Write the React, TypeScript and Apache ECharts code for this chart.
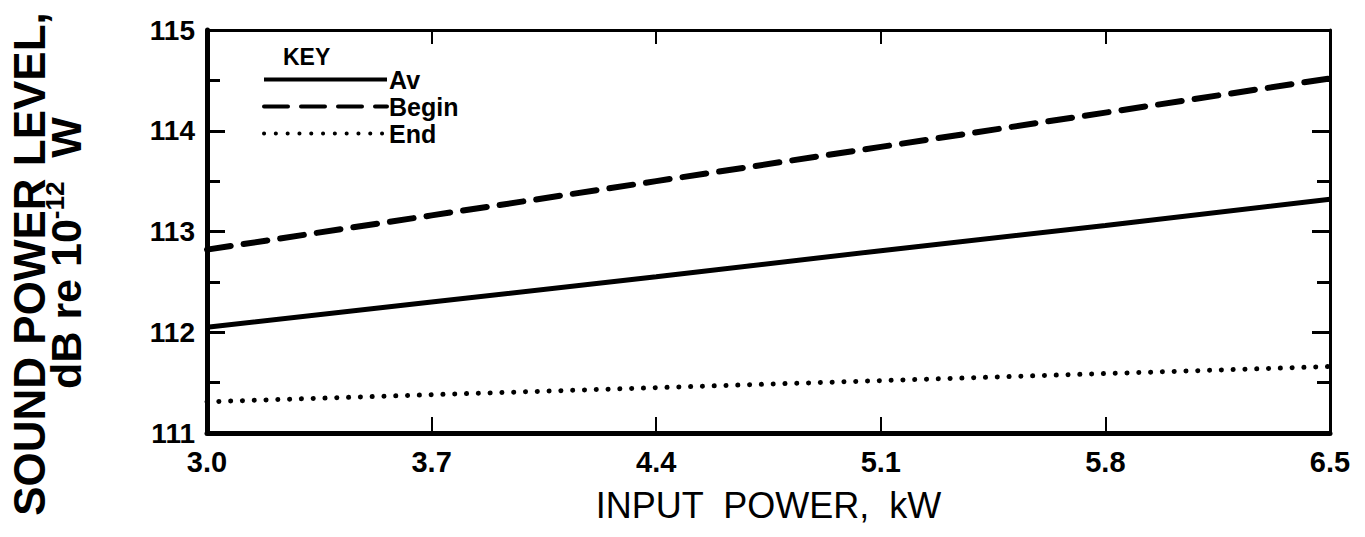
import React, { useEffect, useRef } from "react";
import * as echarts from "echarts";

const xLabels = ["3.0", "3.7", "4.4", "5.1", "5.8", "6.5"];
const avValues = [112.05, 112.3, 112.55, 112.81, 113.06, 113.32];
const beginValues = [112.82, 113.16, 113.5, 113.84, 114.18, 114.52];
const endValues = [111.31, 111.38, 111.45, 111.52, 111.59, 111.66];
const yMin = 111;
const yMax = 115;
const yInterval = 1;

const FONT = "'Liberation Sans', Arial, Helvetica, sans-serif";

export default function App() {
  const ref = useRef<HTMLDivElement>(null);

  useEffect(() => {
    if (!ref.current) return;
    const chart = echarts.init(ref.current, undefined, { renderer: "svg" });

    const baseY = {
      type: "value" as const,
      min: yMin,
      max: yMax,
      interval: yInterval,
      splitLine: { show: false },
      minorTick: { show: true, splitNumber: 2, length: 13, lineStyle: { color: "#000", width: 3 } },
      minorSplitLine: { show: false },
    };

    chart.setOption({
      animation: false,
      backgroundColor: "#fff",
      textStyle: { fontFamily: FONT, color: "#000" },
      grid: { left: 207, right: 35, top: 30, bottom: 104, containLabel: false },
      xAxis: [
        {
          type: "category",
          data: xLabels,
          boundaryGap: false,
          position: "bottom",
          axisLine: { show: true, lineStyle: { color: "#000", width: 5 } },
          axisTick: { show: true, inside: true, length: 16, lineStyle: { color: "#000", width: 2 } },
          axisLabel: { show: true, fontSize: 29, fontWeight: "bold", color: "#000", fontFamily: FONT, margin: 14 },
          splitLine: { show: false },
          name: "INPUT  POWER,  kW",
          nameLocation: "middle",
          nameGap: 54,
          nameTextStyle: { fontSize: 36, color: "#000", fontFamily: FONT },
        },
        {
          type: "category",
          data: xLabels,
          boundaryGap: false,
          position: "top",
          axisLine: { show: true, lineStyle: { color: "#000", width: 3 } },
          axisTick: { show: true, inside: true, length: 14, lineStyle: { color: "#000", width: 2 } },
          axisLabel: { show: false },
          splitLine: { show: false },
        },
      ],
      yAxis: [
        {
          ...baseY,
          position: "left",
          axisLine: { show: true, lineStyle: { color: "#000", width: 5 } },
          axisTick: { show: true, inside: true, length: 18, lineStyle: { color: "#000", width: 3 } },
          axisLabel: { show: true, fontSize: 28, fontWeight: "bold", color: "#000", fontFamily: FONT, margin: 12 },
        },
        {
          ...baseY,
          position: "right",
          axisLine: { show: true, lineStyle: { color: "#000", width: 3 } },
          axisTick: { show: true, inside: true, length: 18, lineStyle: { color: "#000", width: 3 } },
          axisLabel: { show: false },
        },
      ],
      legend: {
        show: true,
        orient: "vertical",
        left: 262,
        top: 67,
        itemWidth: 123,
        itemHeight: 14,
        itemGap: 2,
        padding: 0,
        data: ["Av", "Begin", "End"],
        itemStyle: { color: "transparent", opacity: 0, borderWidth: 0 },
        lineStyle: { width: 4 },
        textStyle: {
          fontSize: 25,
          lineHeight: 25,
          fontWeight: "bold",
          color: "#000",
          fontFamily: FONT,
          padding: [0, 0, 0, -3],
        },
      },
      graphic: [
        {
          type: "text",
          left: 283,
          top: 45,
          style: { text: "KEY", fontSize: 23, fontWeight: "bold", fontFamily: FONT, fill: "#000" },
        },
        {
          type: "text",
          x: 29,
          y: 264,
          rotation: Math.PI / 2,
          style: {
            text: "SOUND POWER LEVEL,",
            fontSize: 44,
            fontWeight: "bold",
            fontFamily: FONT,
            fill: "#000",
            align: "center",
            verticalAlign: "middle",
          },
        },
        {
          type: "text",
          x: 66,
          y: 253,
          rotation: Math.PI / 2,
          style: {
            text: "dB re 10{sup|-12}  W",
            fontSize: 43,
            fontWeight: "bold",
            fontFamily: FONT,
            fill: "#000",
            align: "center",
            verticalAlign: "middle",
            rich: {
              sup: {
                fontSize: 26,
                fontWeight: "bold",
                fontFamily: FONT,
                fill: "#000",
                verticalAlign: "bottom",
                padding: [0, 0, 22, 0],
              },
            },
          },
        },
      ],
      series: [
        {
          name: "Av",
          type: "line",
          data: avValues,
          symbol: "none",
          lineStyle: { color: "#000", width: 5, type: "solid" },
          itemStyle: { color: "#000" },
        },
        {
          name: "Begin",
          type: "line",
          data: beginValues,
          symbol: "none",
          lineStyle: { color: "#000", width: 6, type: [24, 13], cap: "round" },
          itemStyle: { color: "#000" },
        },
        {
          name: "End",
          type: "line",
          data: endValues,
          symbol: "none",
          lineStyle: { color: "#000", width: 5, type: [0.1, 11.7], cap: "round" },
          itemStyle: { color: "#000" },
        },
      ],
    });

    return () => chart.dispose();
  }, []);

  return (
    <div
      ref={ref}
      style={{ position: "fixed", left: 0, top: 0, width: 1365, height: 537, background: "#fff" }}
    />
  );
}
